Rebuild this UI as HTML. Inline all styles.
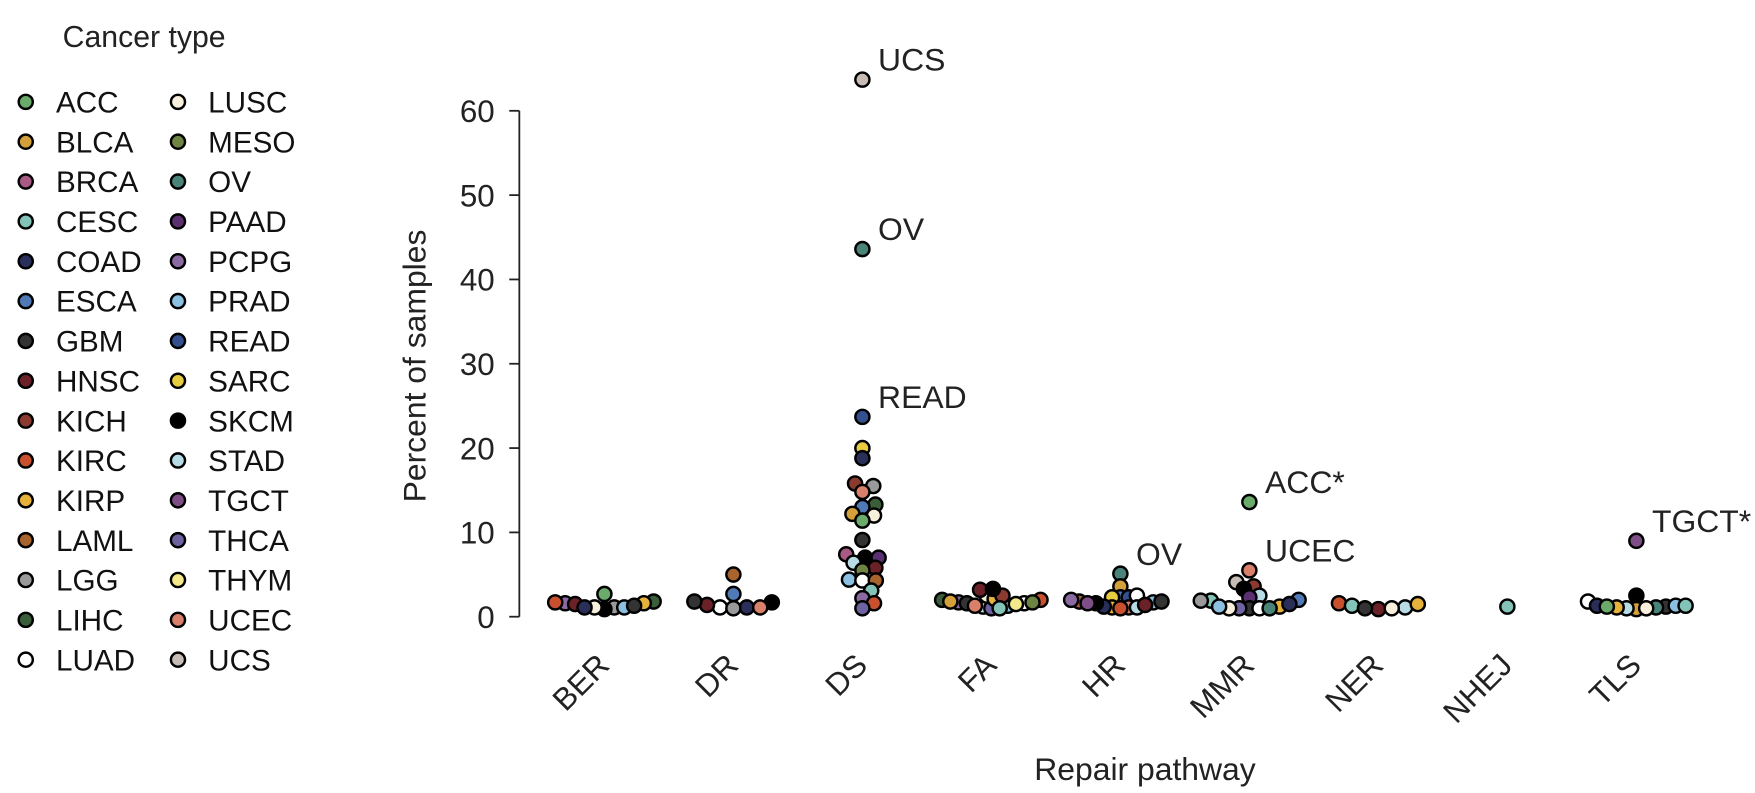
<!DOCTYPE html>
<html><head><meta charset="utf-8"><style>
html,body{margin:0;padding:0;background:#fff;}
svg{display:block;font-family:"Liberation Sans",Arial,sans-serif;}
</style></head><body>
<svg id="chart" width="1755" height="793" viewBox="0 0 1568 708.5" preserveAspectRatio="none" xmlns="http://www.w3.org/2000/svg">
<g id="legend"></g>
<g id="axes"></g>
<g id="points"></g>
<g id="labels"></g>
</svg>
<script>
const cancerTypes = ["ACC","BLCA","BRCA","CESC","COAD","ESCA","GBM","HNSC","KICH","KIRC","KIRP","LAML","LGG","LIHC","LUAD","LUSC","MESO","OV","PAAD","PCPG","PRAD","READ","SARC","SKCM","STAD","TGCT","THCA","THYM","UCEC","UCS"];
const typeColors = ["#6aaa6a","#d4a03a","#a85a85","#84c4b8","#2a2f5a","#4f7ab5","#333333","#6a2228","#8a3a2e","#c9502e","#e6b23a","#a8642e","#9a9a9a","#3a5e3a","#ffffff","#f8f0dc","#6e8442","#4a8478","#5a3070","#8a6aa0","#8cc0e0","#34508e","#e8cc40","#000000","#b8dce6","#7e4e86","#6e62a0","#f4e88a","#d8806a","#c8bcb6"];
const pathways = ["BER","DR","DS","FA","HR","MMR","NER","NHEJ","TLS"];
const yTicks = [0,10,20,30,40,50,60];
const berTypes = ["PCPG","HNSC","KIRC","LGG","SKCM","ACC","LUSC","PRAD","LIHC","COAD","KIRP","GBM"];
const berValues = [1.6,1.5,1.7,1.1,0.9,2.7,1.1,1.1,1.8,1.1,1.6,1.3];
const drTypes = ["SKCM","COAD","LUAD","LAML","ESCA","UCEC","LGG","HNSC","GBM"];
const drValues = [1.7,1.1,1.1,5.0,2.7,1.1,1.0,1.4,1.8];
const dsTypes = ["UCS","OV","READ","SARC","COAD","KICH","LGG","UCEC","LIHC","ESCA","BLCA","LUSC","ACC","GBM","SKCM","BRCA","PAAD","STAD","HNSC","MESO","PRAD","LUAD","LAML","CESC","PCPG","KIRC","THCA"];
const dsValues = [63.7,43.6,23.7,20.0,18.8,15.8,15.5,14.8,13.3,13.0,12.2,12.0,11.4,9.1,7.0,7.4,7.0,6.4,5.8,5.5,4.4,4.3,4.3,3.1,2.2,1.6,1.0];
const faTypes = ["PCPG","GBM","PRAD","STAD","THCA","LUSC","KIRP","HNSC","KICH","SKCM","KIRC","LIHC","CESC","UCEC","LUAD","THYM","BLCA","MESO"];
const faValues = [1.7,1.6,1.3,1.2,1.0,2.5,2.1,3.2,2.5,3.3,2.0,2.0,1.0,1.3,1.6,1.5,1.8,1.7];
const hrTypes = ["OV","BLCA","LAML","ESCA","PCPG","READ","SARC","LUAD","PRAD","UCEC","KIRP","KIRC","STAD","COAD","SKCM","GBM","HNSC","TGCT"];
const hrValues = [5.1,3.6,1.8,2.3,2.0,2.3,2.3,2.5,1.7,1.1,1.1,1.0,1.1,1.2,1.6,1.8,1.4,1.6];
const mmrTypes = ["ACC","UCEC","UCS","KICH","SKCM","STAD","PAAD","ESCA","CESC","LGG","KIRP","GBM","LUAD","THCA","OV","LUSC","PRAD","COAD"];
const mmrValues = [13.6,5.5,4.1,3.6,3.3,2.5,2.3,2.0,1.9,1.9,1.2,1.0,1.0,1.0,1.0,1.0,1.2,1.5];
const nerTypes = ["KIRC","CESC","STAD","HNSC","LUSC","GBM","KIRP"];
const nerValues = [1.6,1.3,1.1,0.9,1.0,1.0,1.5];
const nhejTypes = ["CESC"];
const nhejValues = [1.2];
const tlsTypes = ["TGCT","SKCM","LUAD","GBM","OV","BLCA","LUSC","STAD","PRAD","COAD","KIRP","ACC","CESC"];
const tlsValues = [9.0,2.5,1.8,1.2,1.1,0.9,1.0,1.0,1.3,1.3,1.1,1.2,1.3];
const annotPathways = ["DS","DS","DS","HR","MMR","MMR","TLS"];
const annotTypes = ["UCS","OV","READ","OV","ACC","UCEC","TGCT"];
const annotTexts = ["UCS","OV","READ","OV","ACC*","UCEC","TGCT*"];

const groupTypes = [berTypes,drTypes,dsTypes,faTypes,hrTypes,mmrTypes,nerTypes,nhejTypes,tlsTypes];
const groupValues = [berValues,drValues,dsValues,faValues,hrValues,mmrValues,nerValues,nhejValues,tlsValues];

const NS = "http://www.w3.org/2000/svg";
const X0 = 540, XSTEP = 115.25, Y0 = 551, YMAX = 60, YTOP = 99;
function xScale(i){ return X0 + i*XSTEP; }
function yScale(v){ return Y0 - (v/YMAX)*(Y0-YTOP); }
function mk(tag, attrs, parent){ const e=document.createElementNS(NS,tag); for(const k in attrs) e.setAttribute(k,attrs[k]); parent.appendChild(e); return e; }
function colorOf(t){ return typeColors[cancerTypes.indexOf(t)]; }

// legend
const lg = document.getElementById('legend');
const lt = mk('text',{x:56,y:42,'font-size':27,fill:'#222'},lg);
lt.textContent = 'Cancer type';


cancerTypes.forEach((t,i)=>{
  const col = Math.floor(i/15), row = i%15;
  const cx = col===0 ? 23 : 159, tx = col===0 ? 50 : 186, cy = 91 + row*35.6;
  const g = mk('g',{},lg);
  
  
  mk('circle',{cx:cx,cy:cy,r:6.3,fill:typeColors[i],stroke:'#000','stroke-width':2.2},g);
  const tt = mk('text',{x:tx,y:cy+9.5,'font-size':26.5,fill:'#111'},g);
  tt.textContent = t;
});

// axes
const ax = document.getElementById('axes');
const yl = mk('line',{x1:464,x2:464,y1:yScale(60),y2:yScale(0),stroke:'#222','stroke-width':1.6},ax);


yTicks.forEach(v=>{
  const y=yScale(v);
  mk('line',{x1:455,x2:464,y1:y,y2:y,stroke:'#222','stroke-width':1.6},ax);
  const t = mk('text',{x:442,y:y+10,'font-size':28,'text-anchor':'end',fill:'#222'},ax);
  t.textContent = v;
  
  
});
const yt = mk('text',{x:0,y:0,'font-size':28.5,'text-anchor':'middle',fill:'#222',transform:'translate(380,327) rotate(-90)'},ax);
yt.textContent='Percent of samples';


const xt = mk('text',{x:1023,y:697,'font-size':28.5,'text-anchor':'middle',fill:'#222'},ax);
xt.textContent='Repair pathway';


pathways.forEach((p,i)=>{
  const x = xScale(i)+6;
  const t = mk('text',{x:0,y:0,'font-size':28,'text-anchor':'end',fill:'#222',transform:'translate('+x+',596) rotate(-45)'},ax);
  t.textContent = p;
  
  
});

// beeswarm (anisotropic collision, width capped)
const DX = 12, DY = 9, MAXHALF = 44;
const ptsG = document.getElementById('points');
const placedAll = {};
function collides(px,py,x,y){ const a=(px-x)/DX, b=(py-y)/DY; return a*a+b*b < 0.999; }
groupValues.forEach((vals,gi)=>{
  const types = groupTypes[gi];
  const items = vals.map((v,k)=>({v:v,t:types[k],y:yScale(v)}));
  const order = items.slice().sort((a,b)=>a.v-b.v);
  const placed = [];
  order.forEach(it=>{
    const cands=[0];
    placed.forEach(p=>{
      const dy = Math.abs(p.y-it.y);
      if(dy<DY){ const dx=DX*Math.sqrt(1-(dy/DY)*(dy/DY)); cands.push(p.x+dx,p.x-dx); }
    });
    cands.sort((a,b)=>Math.abs(a)-Math.abs(b));
    let chosen = 0;
    for(const c of cands){
      if(placed.every(p=>!collides(p.x,p.y,c,it.y))){ chosen=c; break; }
    }
    it.x = chosen; placed.push(it);
  });
  const maxAbs = Math.max(1, ...items.map(it=>Math.abs(it.x)));
  const k = Math.min(1, MAXHALF/maxAbs);
  items.forEach(it=>{ it.x *= k; });
  placedAll[pathways[gi]] = items;
  items.forEach(it=>{
    const c = mk('circle',{cx:xScale(gi)+it.x,cy:it.y,r:6.3,fill:colorOf(it.t),stroke:'#000','stroke-width':2.2},ptsG);
    
    
  });
});

// annotations
const lab = document.getElementById('labels');
annotTexts.forEach((s,i)=>{
  const gi = pathways.indexOf(annotPathways[i]);
  const it = placedAll[annotPathways[i]].find(p=>p.t===annotTypes[i]);
  const t = mk('text',{x:xScale(gi)+it.x+14,y:it.y-8,'font-size':28.5,fill:'#222'},lab);
  t.textContent = s;
  
  
});
</script>
</body></html>
